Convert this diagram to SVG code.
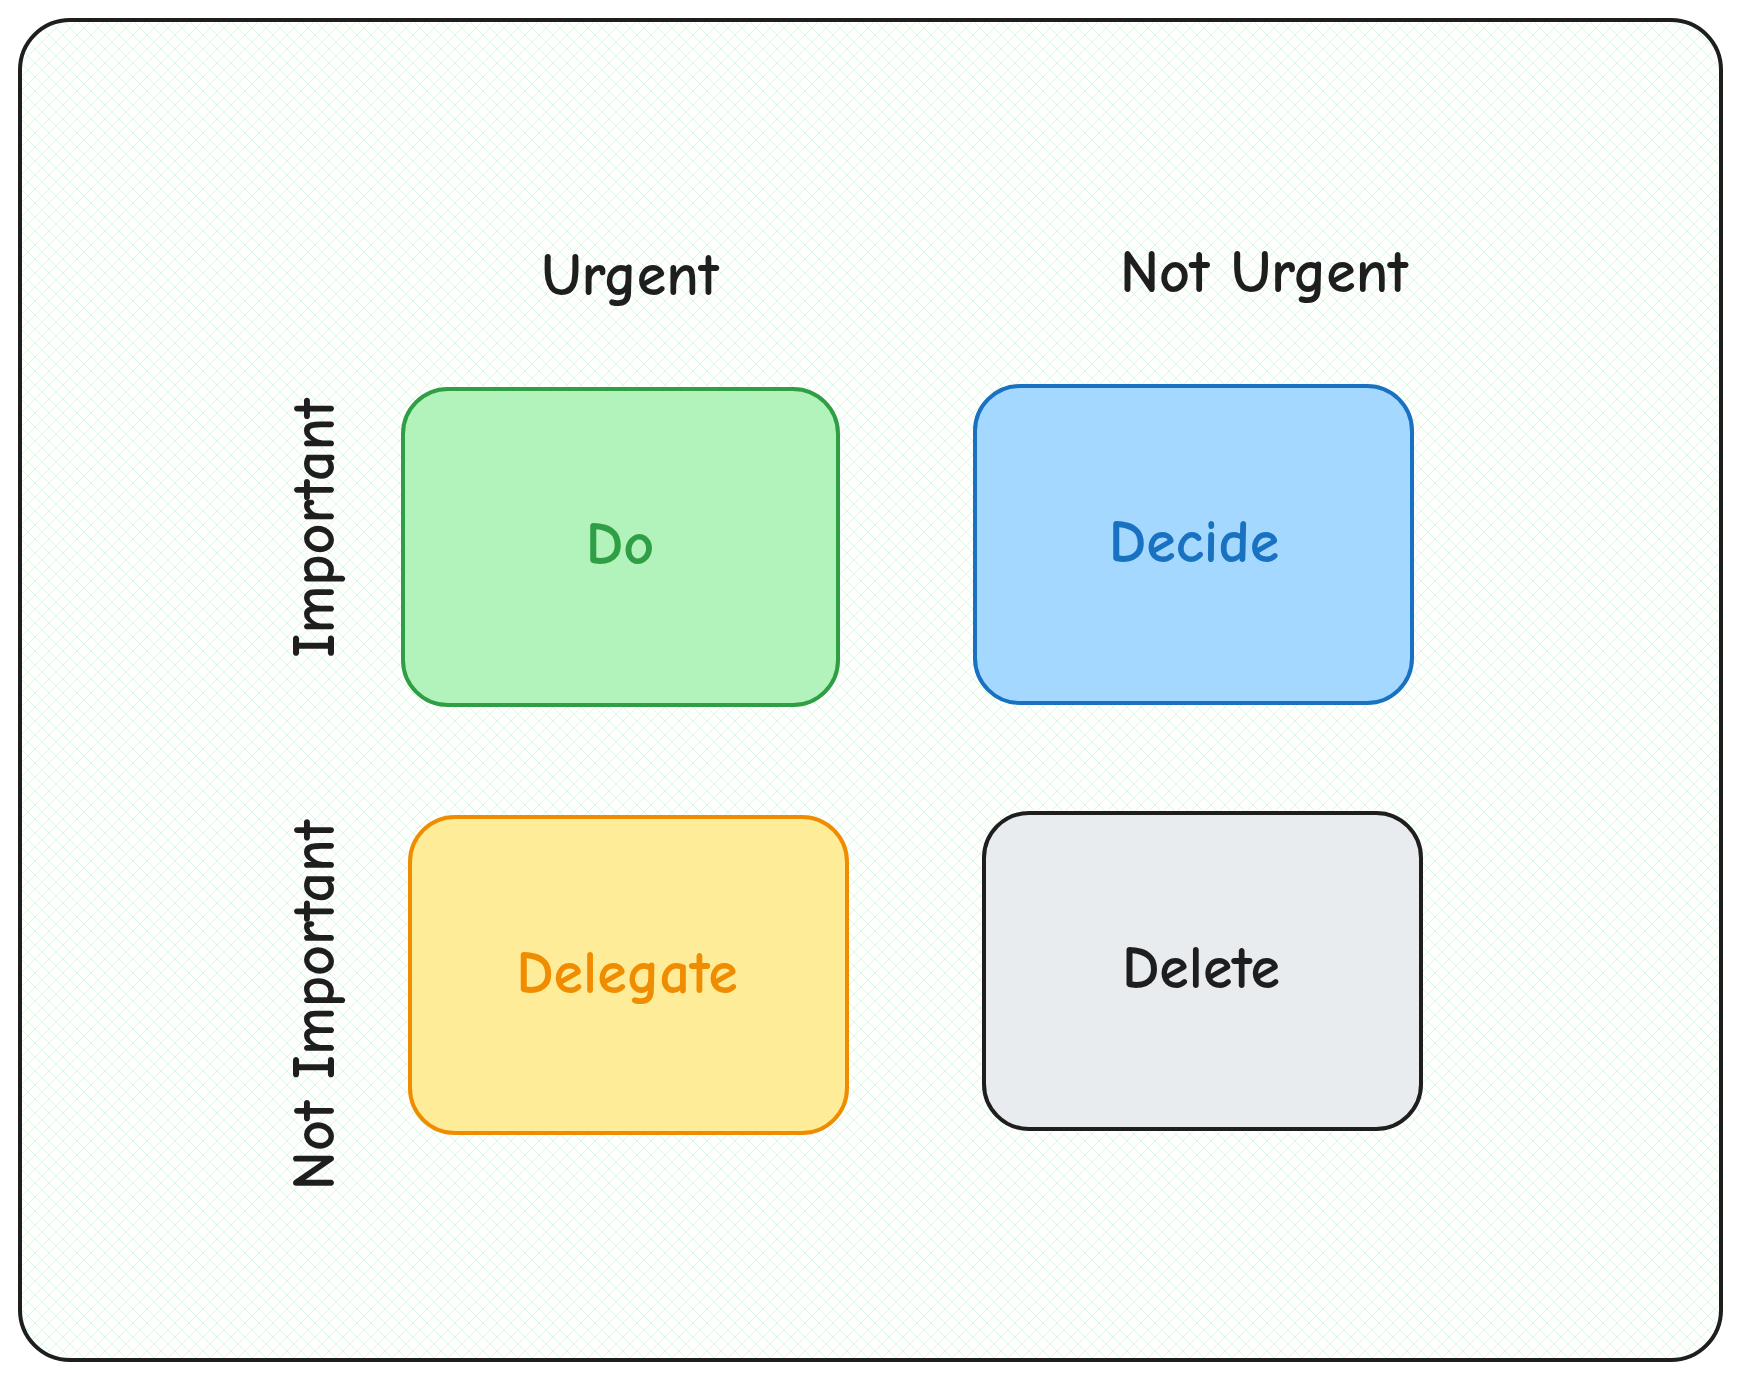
<svg xmlns="http://www.w3.org/2000/svg" width="1741" height="1379" viewBox="0 0 1741 1379">
<defs>
<pattern id="hatch" width="14" height="14" patternUnits="userSpaceOnUse">
<path d="M0 0L14 14M14 0L0 14" stroke="#b2f2bb" stroke-width="0.8" opacity="0.6"/>
</pattern>
<style>
.lbl{font-family:"Comic Neue","Liberation Sans",sans-serif;font-size:60px;font-weight:700;text-anchor:middle;dominant-baseline:central;fill:#1e1e1e}
.box{stroke-width:4}
</style>
</defs>
<rect width="1741" height="1379" fill="#ffffff"/>
<g id="frame">
<rect x="20" y="20" width="1701" height="1340" rx="50" fill="url(#hatch)" stroke="#1e1e1e" stroke-width="4"/>
</g>
<g id="headers">
<text class="lbl" x="630" y="275">Urgent</text>
<text class="lbl" x="1264" y="272">Not Urgent</text>
<text class="lbl" transform="translate(314,528) rotate(-90)">Important</text>
<text class="lbl" transform="translate(314,1005) rotate(-90)">Not Important</text>
</g>
<g id="do">
<rect class="box" x="403" y="389" width="435" height="316" rx="45" fill="#b2f2bb" stroke="#2f9e44"/>
<text class="lbl" x="620" y="544" style="fill:#2f9e44">Do</text>
</g>
<g id="decide">
<rect class="box" x="975" y="386" width="437" height="317" rx="45" fill="#a5d8ff" stroke="#1971c2"/>
<text class="lbl" x="1194" y="542" style="fill:#1971c2">Decide</text>
</g>
<g id="delegate">
<rect class="box" x="410" y="817" width="437" height="316" rx="45" fill="#ffec99" stroke="#f08c00"/>
<text class="lbl" x="627" y="973" style="fill:#f08c00">Delegate</text>
</g>
<g id="delete">
<rect class="box" x="984" y="813" width="437" height="316" rx="45" fill="#e9ecef" stroke="#1e1e1e"/>
<text class="lbl" x="1201" y="968">Delete</text>
</g>
<g id="connectors"/>
</svg>
